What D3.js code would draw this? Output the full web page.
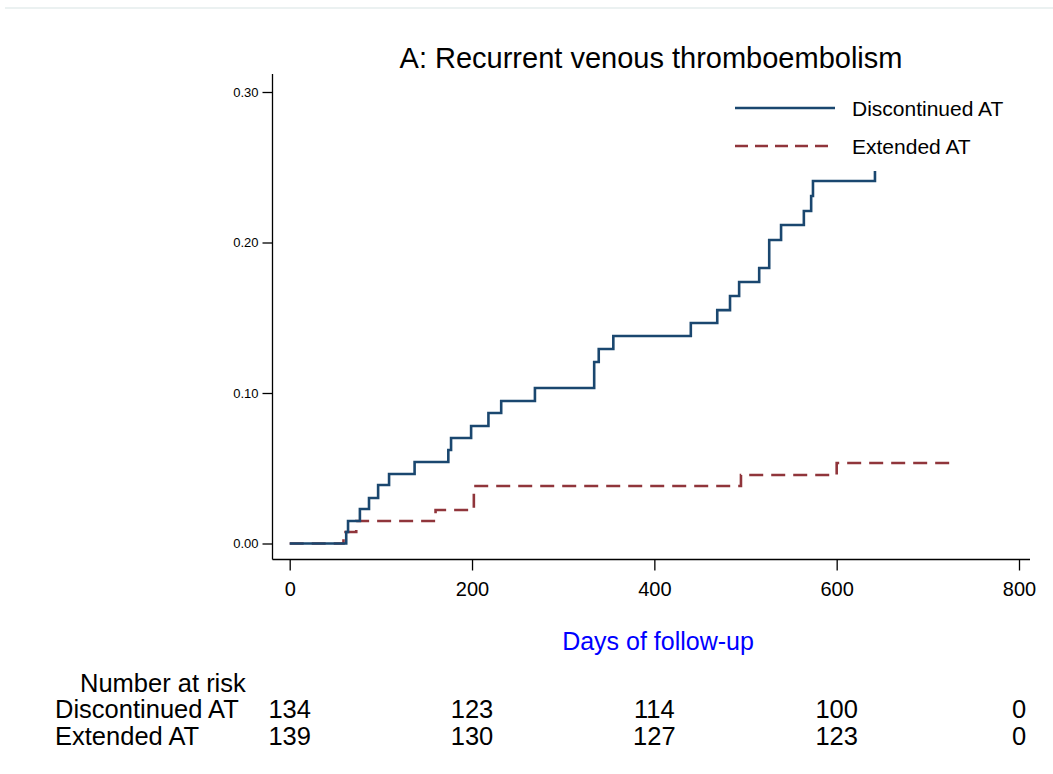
<!DOCTYPE html>
<html>
<head>
<meta charset="utf-8">
<script src="https://cdn.jsdelivr.net/npm/d3@7"></script>
<style>
    body { margin: 0; background: #ffffff; }
    text { font-family: "Liberation Sans", Arial, sans-serif; fill: #000000; }
</style>
</head>
<body>
<svg id="km_plot" width="1053" height="774"></svg>
<script>
// cumulative incidence (day of step, value after step)
const days_discontinued = [0, 62, 64, 77, 87, 97, 109, 137, 174, 177, 199, 218, 232, 269, 334, 339, 355, 440, 469, 483, 493, 515, 526, 539, 564, 572, 574, 642];
const risk_discontinued = [0, 0.0076, 0.0150, 0.0229, 0.0302, 0.0389, 0.0462, 0.0542, 0.0621, 0.0701, 0.0781, 0.0867, 0.0947, 0.1033, 0.1206, 0.1292, 0.1379, 0.1465, 0.1551, 0.1645, 0.1738, 0.1831, 0.2017, 0.2116, 0.2209, 0.2309, 0.2409, 0.2475];

const days_extended = [0, 59, 73, 160, 202, 495, 600, 727];
const risk_extended = [0, 0.0076, 0.0150, 0.0223, 0.0382, 0.0455, 0.0535, 0.0535];

const series_names  = ["Discontinued AT", "Extended AT"];
const series_colors = ["#1a476f", "#90353b"];

const x_tick_values = [0, 200, 400, 600, 800];
const y_tick_values = [0, 0.1, 0.2, 0.3];

const at_risk_discontinued = [134, 123, 114, 100, 0];
const at_risk_extended     = [139, 130, 127, 123, 0];

const chart_title  = "A: Recurrent venous thromboembolism";
const x_axis_title = "Days of follow-up";

function render()
{
    var target_svg = d3.select("#km_plot");

    // faint frame line at the top of the picture
    target_svg.append("line")
        .attr("x1", 5).attr("x2", 1053)
        .attr("y1", 8).attr("y2", 8)
        .attr("stroke", "#e4ecec")
        .attr("stroke-width", 1.5);

    // the following code is used to build our scales
    const AxisScaleX = d3.scaleLinear()
        .domain([0, 800])
        .range([289.7, 1019]);

    const AxisScaleY = d3.scaleLinear()
        .domain([0, 0.3])
        .range([543.5, 92]);

    const axis_left   = 272.5;
    const axis_bottom = 559.5;

    // here we are rendering the y axis
    const AxisY = d3.axisLeft(AxisScaleY)
        .tickValues(y_tick_values)
        .tickFormat(d3.format(".2f"))
        .tickSize(10)
        .tickPadding(4);

    const chartAxisY = target_svg.append("g")
        .attr("transform", `translate(${axis_left},0)`)
        .call(AxisY);

    chartAxisY.select(".domain").remove();
    chartAxisY.append("line")
        .attr("x1", 0).attr("x2", 0)
        .attr("y1", 74).attr("y2", axis_bottom)
        .attr("stroke", "#000000")
        .attr("stroke-width", 1.3);

    chartAxisY.selectAll(".tick line").attr("stroke", "#000000").attr("stroke-width", 1.3);
    chartAxisY.selectAll(".tick text")
        .style("font-family", "Liberation Sans, Arial, sans-serif")
        .style("font-size", "13px")
        .attr("fill", "#000000");

    // here we are rendering the x axis
    const AxisX = d3.axisBottom(AxisScaleX)
        .tickValues(x_tick_values)
        .tickFormat(d3.format("d"))
        .tickSize(11)
        .tickPadding(11);

    const chartAxisX = target_svg.append("g")
        .attr("transform", `translate(0,${axis_bottom})`)
        .call(AxisX);

    chartAxisX.select(".domain").remove();
    chartAxisX.append("line")
        .attr("x1", axis_left).attr("x2", 1030)
        .attr("y1", 0).attr("y2", 0)
        .attr("stroke", "#000000")
        .attr("stroke-width", 1.3);

    chartAxisX.selectAll(".tick line").attr("stroke", "#000000").attr("stroke-width", 1.3);
    chartAxisX.selectAll(".tick text")
        .style("font-family", "Liberation Sans, Arial, sans-serif")
        .style("font-size", "20px")
        .attr("fill", "#000000");

    // here we are rendering the step curves
    const stepLine = d3.line()
        .x(d => AxisScaleX(d[0]))
        .y(d => AxisScaleY(d[1]))
        .curve(d3.curveStepAfter);

    var curves = [
        d3.zip(days_discontinued, risk_discontinued),
        d3.zip(days_extended,     risk_extended)
    ];

    target_svg.append("path")
        .datum(curves[1])
        .attr("d", stepLine)
        .attr("fill", "none")
        .attr("stroke", series_colors[1])
        .attr("stroke-width", 2.6)
        .attr("stroke-dasharray", "14,8");

    target_svg.append("path")
        .datum(curves[0])
        .attr("d", stepLine)
        .attr("fill", "none")
        .attr("stroke", series_colors[0])
        .attr("stroke-width", 2.6);

    // the following code is used to draw the legend
    var legend = target_svg.append("g");

    series_names.forEach((name, i) =>
    {
        var ly = 108 + i * 38;

        legend.append("line")
            .attr("x1", 735).attr("x2", 835)
            .attr("y1", ly).attr("y2", ly)
            .attr("stroke", series_colors[i])
            .attr("stroke-width", 2.6)
            .attr("stroke-dasharray", i === 1 ? "13,7" : null);

        legend.append("text")
            .attr("x", 852)
            .attr("y", ly + 7.5)
            .style("font-size", "21px")
            .text(name);
    });

    // titles
    target_svg.append("text")
        .attr("x", 651)
        .attr("y", 68)
        .attr("text-anchor", "middle")
        .style("font-size", "29px")
        .text(chart_title);

    target_svg.append("text")
        .attr("x", 658)
        .attr("y", 650)
        .attr("text-anchor", "middle")
        .style("font-size", "25px")
        .style("fill", "#0000ff")
        .text(x_axis_title);

    // the following code is used to draw the number at risk table
    var table = target_svg.append("g").style("font-size", "25.5px");

    table.append("text")
        .attr("x", 80)
        .attr("y", 692)
        .text("Number at risk");

    var rows = [at_risk_discontinued, at_risk_extended];

    rows.forEach((row, r) =>
    {
        var ry = 718 + r * 26.5;

        table.append("text")
            .attr("x", 55)
            .attr("y", ry)
            .text(series_names[r]);

        table.selectAll(".risk_row_" + r)
            .data(row)
            .enter().append("text")
            .attr("class", "risk_row_" + r)
            .attr("x", (d, i) => AxisScaleX(x_tick_values[i]))
            .attr("y", ry)
            .attr("text-anchor", "middle")
            .text(d => d);
    });
}

render();
</script>
</body>
</html>
